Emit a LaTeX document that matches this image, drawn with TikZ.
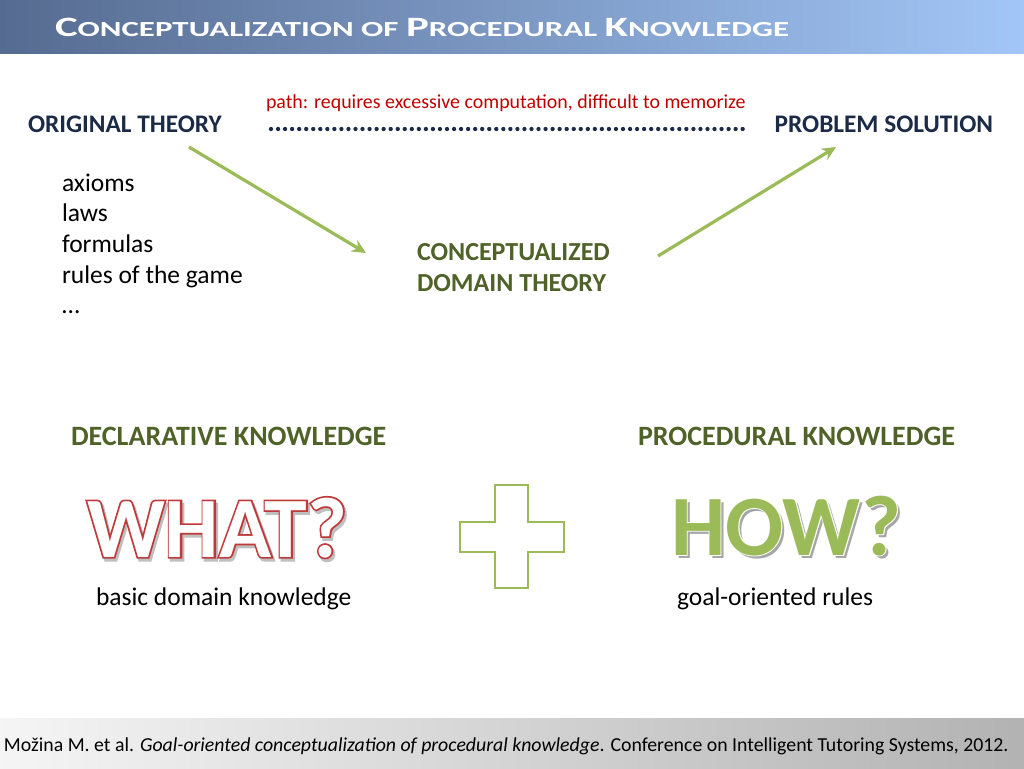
\documentclass[tikz,border=0pt]{standalone}
\usepackage{fontspec}
\setmainfont{Carlito}
\newfontfamily\strokefont{Carlito}[FakeBold=4]
\newfontfamily\thinstroke{Carlito}[FakeBold=2]
\usetikzlibrary{arrows.meta}
\definecolor{navyc}{HTML}{1B2A47}
\definecolor{olivec}{HTML}{4F6228}
\definecolor{redc}{HTML}{C00000}
\definecolor{greenc}{HTML}{9BBB59}
\definecolor{whatred}{HTML}{C0393B}
\definecolor{titleL}{HTML}{566B90}
\definecolor{titleR}{HTML}{A2C6F7}
\definecolor{shadowc}{HTML}{BFBFBF}
\begin{document}
\begin{tikzpicture}[x=1pt,y=-1pt,
  every node/.style={inner sep=0pt,outer sep=0pt},
  heading/.style={text=navyc,font=\bfseries\fontsize{25.3}{25.3}\selectfont},
  olivehead/.style={text=olivec,font=\bfseries\fontsize{26}{26}\selectfont},
  bigolive/.style={text=olivec,font=\bfseries\fontsize{28}{28}\selectfont},
  body/.style={text=black,font=\fontsize{25.5}{25.5}\selectfont},
  greenarrow/.style={draw=greenc,line width=3.2pt,-{Stealth[length=14pt,width=13pt]}},
  big/.style={font=\bfseries\fontsize{86}{86}\selectfont}]
\useasboundingbox (0,0) rectangle (1024,768);
\fill[white] (0,0) rectangle (1024,768);
% title bar
\shade[left color=titleL,right color=titleR] (0,0) rectangle (1024,54);
\node[anchor=base west,text=white,font=\bfseries] (title) at (55,37)
 {\scalebox{1.53}[1]{\fontsize{28}{28}\selectfont C\fontsize{21.5}{21.5}\selectfont ONCEPTUALIZATION OF \fontsize{28}{28}\selectfont P\fontsize{21.5}{21.5}\selectfont ROCEDURAL \fontsize{28}{28}\selectfont K\fontsize{21.5}{21.5}\selectfont NOWLEDGE}};
% footer band
\shade[left color=white!96!black,right color=black!30] (0,718) rectangle (1024,768);
\node[anchor=base west,font=\fontsize{19.8}{19.8}\selectfont] (ref) at (4,751)
 {Možina M. et al. \textit{Goal-oriented conceptualization of procedural knowledge}. Conference on Intelligent Tutoring Systems, 2012.};
% top row
\node[heading,anchor=base west] (orig) at (28,132) {ORIGINAL THEORY};
\node[heading,anchor=base east] (sol) at (993,132) {PROBLEM SOLUTION};
\node[anchor=base west,text=redc,font=\fontsize{19.9}{19.9}\selectfont] (path) at (266,108)
 {path: requires excessive computation, difficult to memorize};
\coordinate (dotA) at (271,129);
\coordinate (dotB) at (746,129);
\draw[navyc,line width=4.3pt,line cap=round,dash pattern=on 0pt off 7.04pt] (dotA) -- (dotB);
% list
\node[body,anchor=base west] (l1) at (62,191) {axioms};
\node[body,anchor=base west] (l2) at (62,221) {laws};
\node[body,anchor=base west] (l3) at (62,252) {formulas};
\node[body,anchor=base west] (l4) at (62,283) {rules of the game};
\node[body,anchor=base west] (l5) at (62,313) {…};
% conceptualized
\node[olivehead,anchor=base west] (c1) at (417,260) {CONCEPTUALIZED};
\node[olivehead,anchor=base west] (c2) at (417,291) {DOMAIN THEORY};
% arrows
\coordinate (a1s) at (189,147);
\coordinate (a1e) at (366,253);
\coordinate (a2s) at (658,256);
\coordinate (a2e) at (836,147);
\draw[greenarrow] (a1s) -- (a1e);
\draw[greenarrow] (a2s) -- (a2e);
% knowledge headings
\node[bigolive,anchor=base west] (decl) at (71,445) {DECLARATIVE KNOWLEDGE};
\node[bigolive,anchor=base west] (proc) at (638,445) {PROCEDURAL KNOWLEDGE};
% WHAT? (shadow, red outline, white fill in one node)
\node[anchor=base west,big] (what) at (87,557)
 {\rlap{\hspace{2pt}\raisebox{-3pt}{\strokefont\bfseries\color{shadowc}WHAT?}}\rlap{\strokefont\bfseries\color{whatred}WHAT?}\color{white}WHAT?};
% HOW? (shadow, white outline, green fill in one node)
\node[anchor=base west,big] (how) at (671,555)
 {\rlap{\hspace{3pt}\raisebox{-3pt}{\color{black!35}HOW?}}\rlap{\thinstroke\bfseries\color{white}HOW?}\color{greenc}HOW?};
% plus
\draw[greenc,line width=2.8pt,line join=miter] (495,485) -- (528,485) -- (528,522) -- (564,522) -- (564,552) -- (528,552) -- (528,588) -- (495,588) -- (495,552) -- (460,552) -- (460,522) -- (495,522) -- cycle;
% captions
\node[body,anchor=base west] (basic) at (96,605) {basic domain knowledge};
\node[body,anchor=base west] (goal) at (677,605) {goal-oriented rules};
\end{tikzpicture}
\end{document}
